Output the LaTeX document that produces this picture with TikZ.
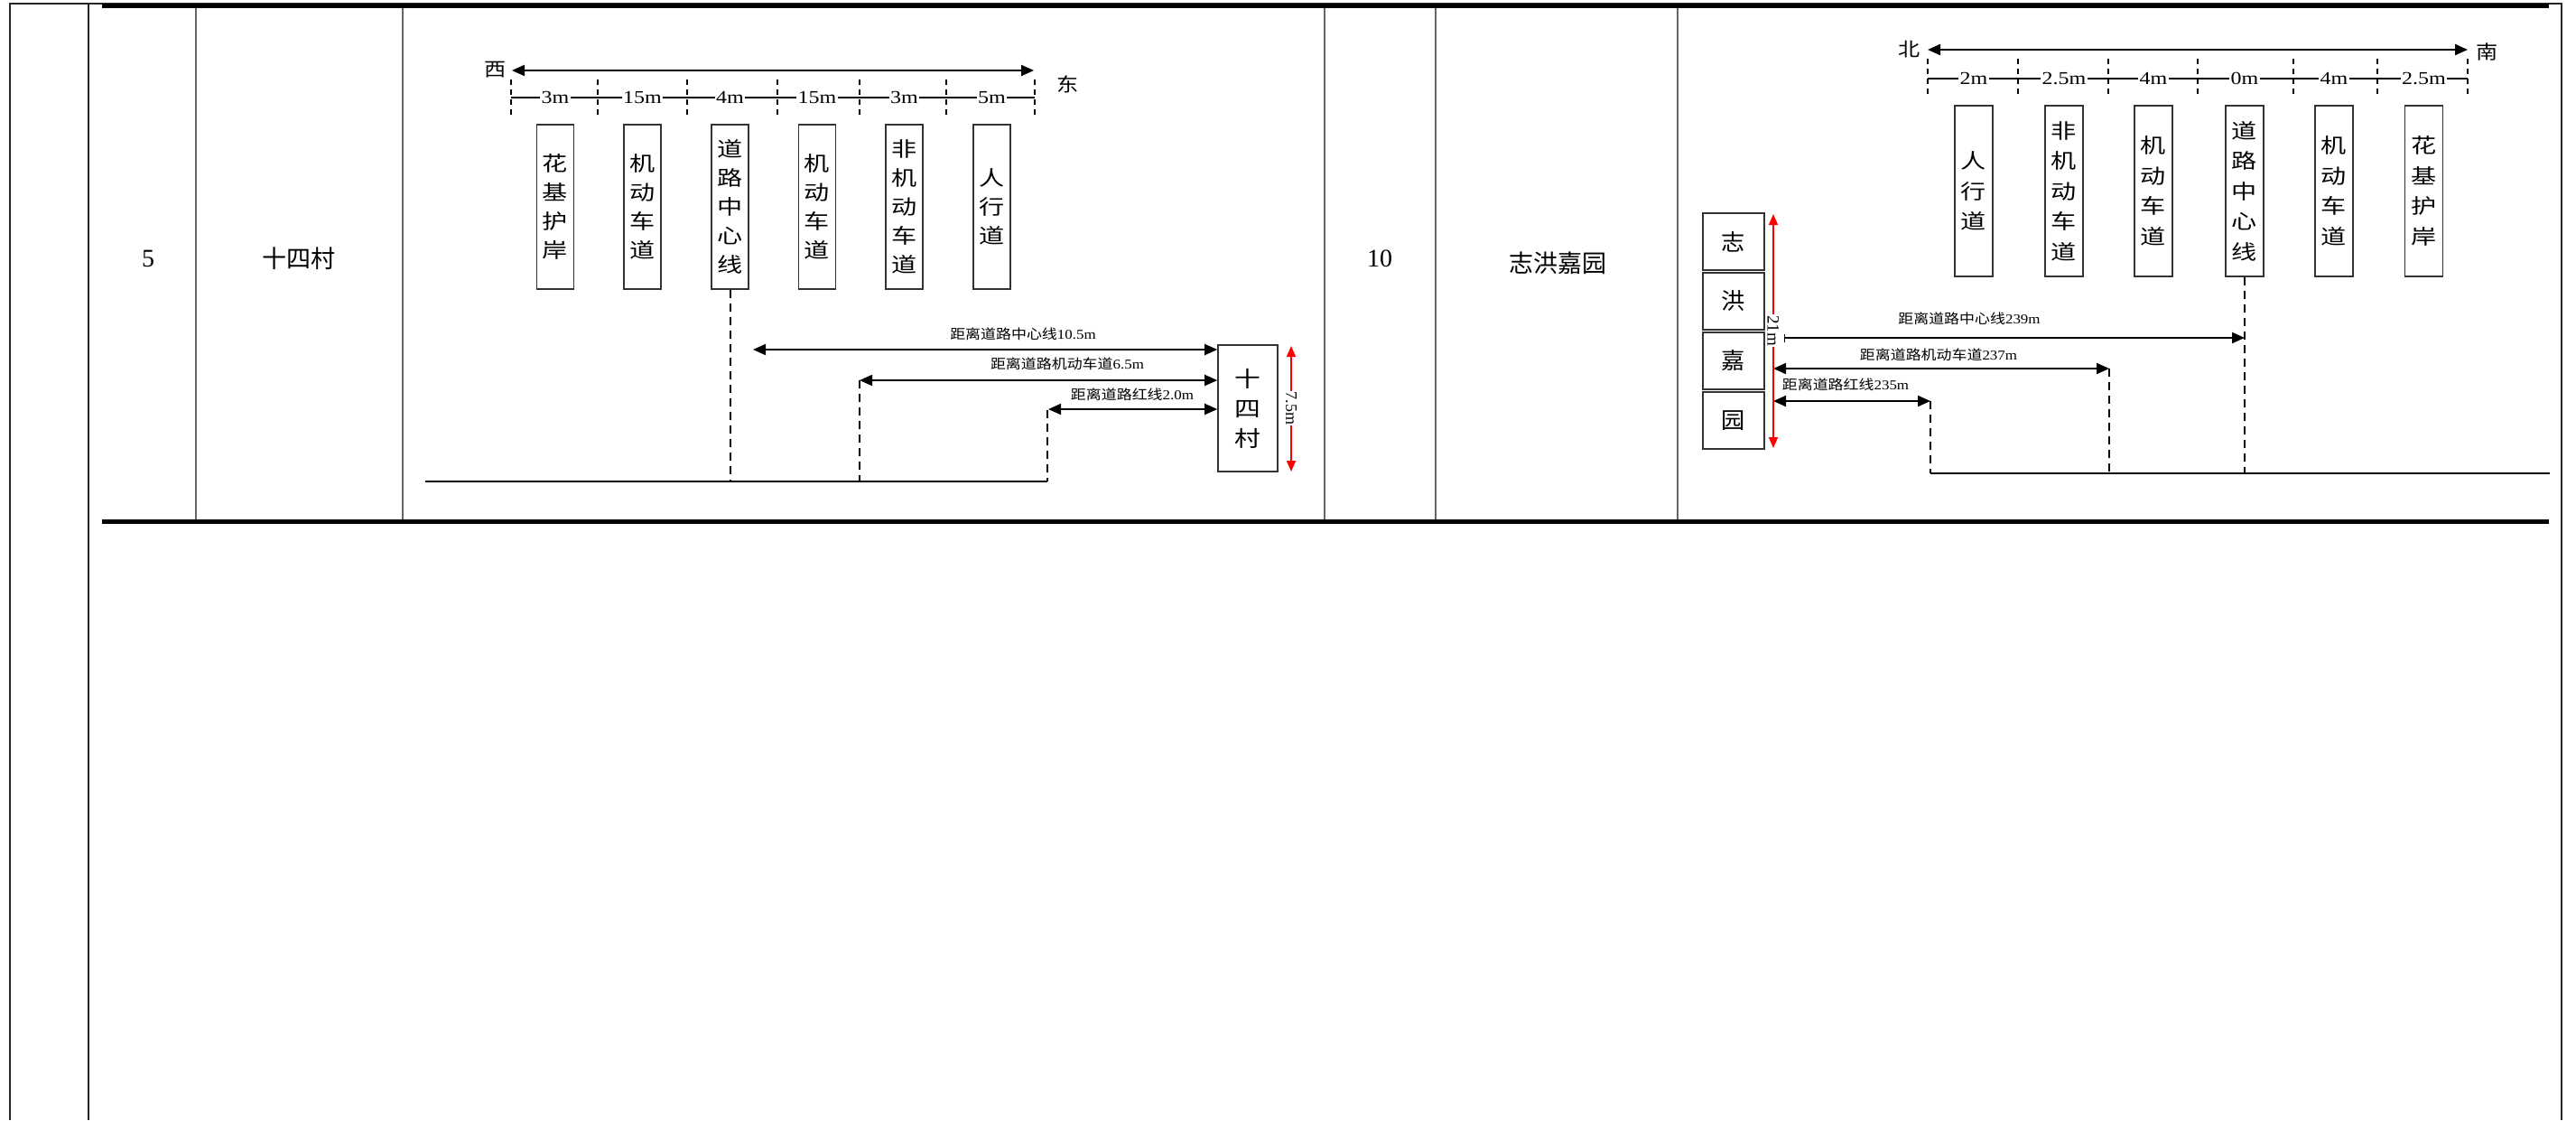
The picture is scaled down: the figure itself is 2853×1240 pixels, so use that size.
\documentclass[tikz,border=0pt]{standalone}
\usepackage{fontspec}
\usepackage{graphicx}
\setmainfont{Liberation Serif}
\newfontfamily\cjk{Noto Sans CJK SC}
\usetikzlibrary{arrows.meta}
\newcommand\wtxt[2][1.25]{\scalebox{#1}[1]{#2}}
\begin{document}
\begin{tikzpicture}[x=1pt,y=-1pt,
  frameline/.style={line width=2pt, black!85},
  gridline/.style={line width=2.5pt, black!60},
  hrule/.style={line width=5pt, black},
  lane/.style={draw=black!80, line width=1.6pt, fill=white, inner sep=0pt, align=center,
    font=\cjk\fontsize{22.5}{32}\selectfont},
  lanetwo/.style={lane, font=\cjk\fontsize{22.5}{33.5}\selectfont},
  bldg/.style={draw=black!80, line width=1.6pt, fill=white, inner sep=0pt, align=center},
  tip/.tip={Triangle[length=14pt,width=12pt]},
  redtip/.tip={Triangle[length=12pt,width=10pt]},
  dimarrow/.style={line width=2pt, black, tip-tip},
  dirarrow/.style={line width=2.2pt, black, tip-tip},
  redarrow/.style={line width=1.6pt, red, redtip-redtip},
  rulerline/.style={line width=2pt, black},
  tickline/.style={line width=1.6pt, black, dash pattern=on 6pt off 5pt},
  dropline/.style={line width=2pt, black, dash pattern=on 9pt off 6pt},
  groundline/.style={line width=2pt, black},
  rulelab/.style={fill=white, inner sep=1.5pt, font=\fontsize{20}{22}\selectfont},
  dimlab/.style={inner sep=1pt, font=\fontsize{15}{18}\selectfont},
  dirlab/.style={inner sep=0pt, font=\cjk\fontsize{21}{22}\selectfont},
  redlab/.style={fill=white, inner sep=1pt, rotate=-90, font=\fontsize{18}{20}\selectfont},
  celltext/.style={inner sep=0pt, font=\fontsize{28}{32}\selectfont},
  cellcjk/.style={inner sep=0pt, font=\cjk\fontsize{27}{32}\selectfont}
]
\fill[white] (0,0) rectangle (2853,1240);
\useasboundingbox (0,0) rectangle (2853,1240);

% ---------------- table frame ----------------
\draw[frameline] (11,1240) -- (11,4) -- (2837,4) -- (2837,1240);
\draw[frameline] (98,4) -- (98,1240);
\foreach \gx in {217,446,1467,1590,1858}{
  \draw[gridline] (\gx,6) -- (\gx,577);
}
\draw[hrule] (113,6.5) -- (2823,6.5);
\draw[hrule] (113,577) -- (2823,577);

% cell texts
\node[celltext] (n5) at (164,286) {5};
\node[cellcjk] (n14) at (331,286) {十四村};
\node[celltext] (n10) at (1528,286) {10};
\node[cellcjk] (nzh) at (1725,291) {志洪嘉园};

% ================ panel 1 ================
\coordinate (w1) at (567,78);
\coordinate (e1) at (1145,78);
\draw[dirarrow] (w1) -- (e1);
\node[dirlab] (xi) at (549,77) {\wtxt[1.15]{西}};
\node[dirlab] (dong) at (1183,93) {\wtxt[1.15]{东}};

% lanes
\node[lane, minimum width=41pt, minimum height=182pt] (l1a) at (615,229) {\wtxt{花}\\\wtxt{基}\\\wtxt{护}\\\wtxt{岸}};
\node[lane, minimum width=41pt, minimum height=182pt] (l1b) at (711.5,229) {\wtxt{机}\\\wtxt{动}\\\wtxt{车}\\\wtxt{道}};
\node[lane, minimum width=41pt, minimum height=182pt] (l1c) at (808.5,229) {\wtxt{道}\\\wtxt{路}\\\wtxt{中}\\\wtxt{心}\\\wtxt{线}};
\node[lane, minimum width=41pt, minimum height=182pt] (l1d) at (905,229) {\wtxt{机}\\\wtxt{动}\\\wtxt{车}\\\wtxt{道}};
\node[lane, minimum width=41pt, minimum height=182pt] (l1e) at (1001.5,229) {\wtxt{非}\\\wtxt{机}\\\wtxt{动}\\\wtxt{车}\\\wtxt{道}};
\node[lane, minimum width=41pt, minimum height=182pt] (l1f) at (1098.5,229) {\wtxt{人}\\\wtxt{行}\\\wtxt{道}};

% ruler
\coordinate (r1a) at (566,108);
\coordinate (r1b) at (1146,108);
\foreach \tx in {566,662,761,861,952,1048,1146}{
  \draw[tickline] (\tx,88) -- (\tx,127);
}
\draw[rulerline] (r1a) -- (r1b);
\node[rulelab] (m1a) at (l1a |- r1a) {\wtxt[1.2]{3m}};
\node[rulelab] (m1b) at (l1b |- r1a) {\wtxt[1.2]{15m}};
\node[rulelab] (m1c) at (l1c |- r1a) {\wtxt[1.2]{4m}};
\node[rulelab] (m1d) at (l1d |- r1a) {\wtxt[1.2]{15m}};
\node[rulelab] (m1e) at (l1e |- r1a) {\wtxt[1.2]{3m}};
\node[rulelab] (m1f) at (l1f |- r1a) {\wtxt[1.2]{5m}};

% building
\node[bldg, minimum width=66pt, minimum height=140pt, font=\cjk\fontsize{24}{33}\selectfont] (v1) at (1382,452) {\wtxt[1.2]{十}\\\wtxt[1.2]{四}\\\wtxt[1.2]{村}};

% ground and drops
\coordinate (g1L) at (471,533);
\coordinate (g1R) at (1160,533);
\coordinate (d1b) at (952,421);
\coordinate (d1c) at (1160,454);
\draw[groundline] (g1L) -- (g1R);
\draw[dropline] (l1c.south) -- (l1c.south |- g1L);
\draw[dropline] (d1b) -- (d1b |- g1L);
\draw[dropline] (d1c) -- (g1R);

% distance arrows
\coordinate (a1s) at (834,387);
\draw[dimarrow] (a1s) -- (a1s -| v1.west);
\draw[dimarrow] (d1b) -- (d1b -| v1.west);
\coordinate (a3s) at (1161,453);
\draw[dimarrow] (a3s) -- (a3s -| v1.west);
\node[dimlab] (t1a) at (1133,370) {\wtxt[1.13]{{\cjk 距离道路中心线}10.5m}};
\node[dimlab] (t1b) at (1182,403) {\wtxt[1.13]{{\cjk 距离道路机动车道}6.5m}};
\node[dimlab] (t1c) at (1254,437) {\wtxt[1.13]{{\cjk 距离道路红线}2.0m}};

% red height arrow
\coordinate (h1t) at (1430,383);
\coordinate (h1b) at (1430,522);
\draw[redarrow] (h1t) -- (h1b);
\node[redlab] (h1l) at (1430,452) {7.5m};

% ================ panel 2 ================
\coordinate (n2) at (2135,55);
\coordinate (s2) at (2733,55);
\draw[dirarrow] (n2) -- (s2);
\node[dirlab] (bei) at (2115,55) {\wtxt[1.15]{北}};
\node[dirlab] (nan) at (2755,58) {\wtxt[1.15]{南}};

\node[lanetwo, minimum width=42pt, minimum height=189pt] (l2a) at (2186,211.5) {\wtxt{人}\\\wtxt{行}\\\wtxt{道}};
\node[lanetwo, minimum width=42pt, minimum height=189pt] (l2b) at (2286,211.5) {\wtxt{非}\\\wtxt{机}\\\wtxt{动}\\\wtxt{车}\\\wtxt{道}};
\node[lanetwo, minimum width=42pt, minimum height=189pt] (l2c) at (2385,211.5) {\wtxt{机}\\\wtxt{动}\\\wtxt{车}\\\wtxt{道}};
\node[lanetwo, minimum width=42pt, minimum height=189pt] (l2d) at (2486,211.5) {\wtxt{道}\\\wtxt{路}\\\wtxt{中}\\\wtxt{心}\\\wtxt{线}};
\node[lanetwo, minimum width=42pt, minimum height=189pt] (l2e) at (2585,211.5) {\wtxt{机}\\\wtxt{动}\\\wtxt{车}\\\wtxt{道}};
\node[lanetwo, minimum width=42pt, minimum height=189pt] (l2f) at (2684.5,211.5) {\wtxt{花}\\\wtxt{基}\\\wtxt{护}\\\wtxt{岸}};

\coordinate (r2a) at (2135,87);
\coordinate (r2b) at (2733,87);
\foreach \tx in {2135,2235,2335,2434,2540,2633,2733}{
  \draw[tickline] (\tx,65) -- (\tx,107);
}
\draw[rulerline] (r2a) -- (r2b);
\node[rulelab] (m2a) at (l2a |- r2a) {\wtxt[1.2]{2m}};
\node[rulelab] (m2b) at (l2b |- r2a) {\wtxt[1.2]{2.5m}};
\node[rulelab] (m2c) at (l2c |- r2a) {\wtxt[1.2]{4m}};
\node[rulelab] (m2d) at (l2d |- r2a) {\wtxt[1.2]{0m}};
\node[rulelab] (m2e) at (l2e |- r2a) {\wtxt[1.2]{4m}};
\node[rulelab] (m2f) at (l2f |- r2a) {\wtxt[1.2]{2.5m}};

% building blocks
\node[bldg, minimum width=68pt, minimum height=63pt, font=\cjk\fontsize{25}{30}\selectfont] (z1) at (1920,267.5) {\wtxt[1.05]{志}};
\node[bldg, minimum width=68pt, minimum height=63pt, font=\cjk\fontsize{25}{30}\selectfont] (z2) at (1920,333.5) {\wtxt[1.05]{洪}};
\node[bldg, minimum width=68pt, minimum height=63pt, font=\cjk\fontsize{25}{30}\selectfont] (z3) at (1920,399.5) {\wtxt[1.05]{嘉}};
\node[bldg, minimum width=68pt, minimum height=63pt, font=\cjk\fontsize{25}{30}\selectfont] (z4) at (1920,465.5) {\wtxt[1.05]{园}};

% ground and drops
\coordinate (g2L) at (2138,524);
\coordinate (g2R) at (2824,524);
\coordinate (d2b) at (2336,408);
\coordinate (d2c) at (2138,444);
\draw[groundline] (g2L) -- (g2R);
\draw[dropline] (l2d.south) -- (l2d.south |- g2L);
\draw[dropline] (d2b) -- (d2b |- g2L);
\draw[dropline] (d2c) -- (g2L);

% red height arrow
\coordinate (h2t) at (1964,237);
\coordinate (h2b) at (1964,496);

% distance arrows
\coordinate (a4s) at (1976,374);
\draw[line width=2pt, black, {Bar[width=9pt,line width=1.2pt]}-tip] (a4s) -- (a4s -| l2d.south);
\draw[dimarrow] (h2t |- d2b) -- (d2b);
\draw[dimarrow] (h2t |- d2c) -- (d2c);
\draw[redarrow] (h2t) -- (h2b);
\node[redlab, font=\fontsize{19}{20}\selectfont] (h2l) at (1964,366) {21m};

\node[dimlab] (t2a) at (2181,353) {\wtxt[1.13]{{\cjk 距离道路中心线}239m}};
\node[dimlab] (t2b) at (2147,393) {\wtxt[1.13]{{\cjk 距离道路机动车道}237m}};
\node[dimlab] (t2c) at (2044,426) {\wtxt[1.13]{{\cjk 距离道路红线}235m}};
\end{tikzpicture}
\end{document}
